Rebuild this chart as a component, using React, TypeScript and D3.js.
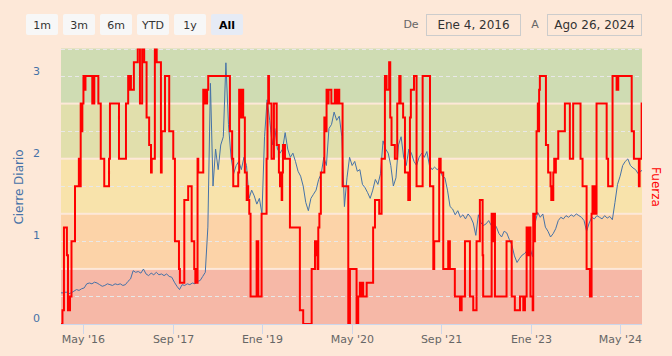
import React from "react";
import * as d3 from "d3";

const WIDTH = 672;
const HEIGHT = 356;
const FONT = '"DejaVu Sans", Verdana, sans-serif';

const rangeButtons = ["1m", "3m", "6m", "YTD", "1y", "All"];
const selectedRange = "All";
const dateFromLabel = "De";
const dateToLabel = "A";
const dateFromText = "Ene 4, 2016";
const dateToText = "Ago 26, 2024";

const rangeStart = "2016-01-04";
const rangeEnd = "2024-08-26";

const xTickDates = ["2016-05-01", "2017-09-01", "2019-01-01", "2020-05-01", "2021-09-01", "2023-01-01", "2024-05-01"];
const xTickLabels = ["May '16", "Sep '17", "Ene '19", "May '20", "Sep '21", "Ene '23", "May '24"];

const cierreTitle = "Cierre Diario";
const fuerzaTitle = "Fuerza";
const cierreTicks = [0, 1, 2, 3];

// Cierre Diario, sampled every 14 days from rangeStart
const cierreIntervalDays = 14;
const cierreValues = [
  0.30, 0.30, 0.31, 0.29, 0.30, 0.32, 0.34, 0.33, 0.35, 0.36,
  0.41, 0.42, 0.41, 0.43, 0.42, 0.40, 0.38, 0.39, 0.41, 0.40,
  0.39, 0.41, 0.40, 0.41, 0.39, 0.40, 0.44, 0.47, 0.57, 0.55,
  0.56, 0.54, 0.59, 0.53, 0.51, 0.54, 0.52, 0.55, 0.52, 0.53,
  0.51, 0.53, 0.50, 0.49, 0.43, 0.38, 0.34, 0.40, 0.39, 0.41,
  0.40, 0.42, 0.41, 0.44, 0.45, 0.50, 0.55, 1.10, 2.85, 1.60,
  2.05, 1.80, 2.10, 2.20, 3.10, 2.35, 1.95, 1.75, 1.85, 1.90,
  1.80, 1.95, 1.85, 1.45, 1.55, 1.48, 1.38, 1.45, 1.26, 2.20,
  2.65, 2.40, 2.10, 2.30, 2.05, 2.00, 2.05, 2.25, 2.05, 1.95,
  2.00, 1.90, 1.78, 1.72, 1.60, 1.40, 1.30, 1.45, 1.50, 1.55,
  1.68, 1.75, 1.95, 1.85, 2.30, 2.35, 2.50, 2.40, 2.45, 2.20,
  1.35, 1.70, 1.95, 1.85, 1.90, 1.78, 1.80, 1.62, 1.58, 1.52,
  1.45, 1.55, 1.68, 1.62, 1.75, 2.15, 2.05, 2.00, 1.85, 1.60,
  1.70, 2.10, 2.20, 1.95, 1.85, 2.05, 2.00, 1.90, 1.85, 1.95,
  2.00, 1.95, 2.02, 1.85, 1.80, 1.83, 1.80, 1.82, 1.72, 1.70,
  1.55, 1.35, 1.32, 1.25, 1.30, 1.22, 1.25, 1.20, 1.26, 1.22,
  1.15, 1.00, 1.25, 1.15, 1.12, 1.14, 1.18, 1.12, 1.15, 1.10,
  1.02, 0.98, 1.05, 1.03, 0.95, 0.88, 0.75, 0.67, 0.72, 0.76,
  0.78, 0.82, 0.85, 0.74, 1.15, 1.28, 1.22, 1.26, 1.10, 1.05,
  0.98, 1.02, 1.08, 1.18, 1.22, 1.20, 1.24, 1.22, 1.25, 1.23,
  1.26, 1.24, 1.22, 1.18, 1.05, 1.15, 1.22, 1.20, 1.24, 1.22,
  1.20, 1.24, 1.21, 1.23, 1.19, 1.40, 1.62, 1.72, 1.85, 1.90,
  1.93, 1.85, 1.82, 1.80, 1.75, 1.78, 1.80,
];

// Fuerza (step series): date of each change and the level from that date on
const fuerzaDates = [
  "2016-01-04", "2016-01-12", "2016-01-20", "2016-02-05", "2016-02-11", "2016-02-22", "2016-03-01", "2016-03-20",
  "2016-04-10", "2016-04-16", "2016-04-20", "2016-04-24", "2016-04-29", "2016-05-05", "2016-05-11", "2016-05-16",
  "2016-06-22", "2016-07-03", "2016-07-25", "2016-08-07", "2016-08-26", "2016-09-21", "2016-09-26", "2016-11-14",
  "2016-12-22", "2017-01-03", "2017-01-09", "2017-01-14", "2017-01-18", "2017-02-03", "2017-02-24", "2017-03-08",
  "2017-03-20", "2017-03-31", "2017-04-13", "2017-04-27", "2017-05-07", "2017-05-11", "2017-05-28", "2017-06-07",
  "2017-06-30", "2017-07-04", "2017-07-22", "2017-08-14", "2017-09-05", "2017-09-14", "2017-10-06", "2017-10-11",
  "2017-11-04", "2017-11-25", "2017-12-14", "2017-12-28", "2018-01-03", "2018-01-07", "2018-01-12", "2018-01-15",
  "2018-01-19", "2018-02-15", "2018-02-21", "2018-02-27", "2018-03-04", "2018-03-08", "2018-03-14", "2018-07-10",
  "2018-07-22", "2018-07-28", "2018-08-24", "2018-08-29", "2018-09-05", "2018-09-09", "2018-09-20", "2018-09-29",
  "2018-10-09", "2018-10-13", "2018-10-17", "2018-10-23", "2018-10-30", "2018-12-02", "2018-12-11", "2018-12-29",
  "2019-01-25", "2019-01-30", "2019-02-03", "2019-02-07", "2019-02-21", "2019-03-06", "2019-03-21", "2019-04-02",
  "2019-04-08", "2019-04-13", "2019-04-17", "2019-04-20", "2019-04-24", "2019-05-05", "2019-06-01", "2019-07-25",
  "2019-08-12", "2019-09-27", "2019-10-15", "2019-10-20", "2019-10-26", "2019-10-29", "2019-11-02", "2019-11-08",
  "2019-11-16", "2019-12-05", "2019-12-11", "2019-12-17", "2019-12-23", "2019-12-28", "2020-01-12", "2020-01-31",
  "2020-02-07", "2020-02-17", "2020-02-24", "2020-03-13", "2020-04-13", "2020-04-22", "2020-05-28", "2020-06-06",
  "2020-06-15", "2020-06-23", "2020-06-29", "2020-07-03", "2020-07-22", "2020-08-26", "2020-09-05", "2020-09-28",
  "2020-10-11", "2020-10-29", "2020-11-02", "2020-11-05", "2020-11-07", "2020-11-21", "2020-11-27", "2020-12-04",
  "2020-12-22", "2021-01-04", "2021-01-15", "2021-01-18", "2021-01-20", "2021-01-22", "2021-02-05", "2021-02-15",
  "2021-03-05", "2021-03-14", "2021-03-19", "2021-04-05", "2021-04-19", "2021-05-22", "2021-07-01", "2021-07-19",
  "2021-07-24", "2021-08-20", "2021-08-28", "2021-09-11", "2021-10-08", "2021-10-17", "2021-11-13", "2021-12-11",
  "2021-12-20", "2022-01-07", "2022-02-03", "2022-02-21", "2022-03-11", "2022-03-29", "2022-04-13", "2022-04-16",
  "2022-06-01", "2022-06-10", "2022-06-13", "2022-06-19", "2022-08-21", "2022-09-18", "2022-10-05", "2022-11-02",
  "2022-11-20", "2022-11-29", "2022-12-08", "2022-12-17", "2022-12-23", "2022-12-29", "2023-01-10", "2023-01-13",
  "2023-01-18", "2023-01-22", "2023-01-31", "2023-02-07", "2023-02-11", "2023-02-14", "2023-02-18", "2023-03-23",
  "2023-04-04", "2023-04-17", "2023-04-21", "2023-04-24", "2023-04-28", "2023-05-02", "2023-05-07", "2023-05-11",
  "2023-05-16", "2023-05-29", "2023-07-04", "2023-07-31", "2023-08-18", "2023-09-27", "2023-10-08", "2023-10-30",
  "2023-11-17", "2023-11-26", "2023-12-01", "2023-12-05", "2023-12-09", "2023-12-14", "2023-12-23", "2024-02-16",
  "2024-02-24", "2024-03-19", "2024-04-10", "2024-04-19", "2024-07-01", "2024-07-13", "2024-08-09", "2024-08-13",
  "2024-08-24", "2024-08-26",
];
const fuerzaValues = [
  0, 0.5, 3.5, 2.5, 0.5, 1, 3, 5,
  6, 5, 8, 7, 8, 9, 8.5, 9,
  8, 9, 8, 6, 5, 6, 8, 6,
  8, 9, 8.5, 9, 8.5, 9.5, 10, 8,
  10, 9.5, 7.5, 6.5, 5.5, 6, 10, 9.5,
  5.5, 7, 9, 7, 6, 3, 2, 1.5,
  4.5, 5, 3, 2, 1.5, 2, 1.5, 6,
  5.5, 8.5, 8, 8.5, 8, 8.5, 9, 7,
  6, 5, 5.5, 8.5, 7.5, 8.5, 7.5, 5.5,
  4.5, 5, 4.5, 4, 1, 3, 1, 4,
  6, 8, 9, 8, 6, 8, 6.5, 5.5,
  5, 5.5, 4.5, 5.5, 6.5, 6, 3.5, 0.5,
  0, 2, 3, 2.5, 3, 2, 3.5, 4,
  5.5, 7.5, 7, 8.5, 8, 8.5, 8, 8.5,
  8, 8.5, 8, 5, 0, 2, 0, 1,
  1.5, 1, 1.5, 1, 1.5, 3.5, 4.5, 4,
  6, 9, 8.5, 9, 8.5, 9.5, 7.5, 6.5,
  6, 8, 9, 8, 9, 8, 7.5, 5.5,
  4.5, 7.5, 8.5, 9, 5, 9, 5, 2,
  3, 6, 5.5, 2, 3, 2, 1, 0.5,
  1, 3, 1, 0.5, 3, 4.5, 2.5, 1,
  4, 3, 4, 1, 3, 1, 0.5, 1,
  0.5, 1, 3.5, 2.5, 3.5, 1, 0.5, 4,
  3, 4, 7, 8, 7, 8.5, 9, 6.5,
  5.5, 5, 4.5, 5, 4.5, 5.5, 6, 5.5,
  6, 7, 8, 6, 8, 6, 5, 2,
  1, 4, 5, 4, 5, 4, 8, 6,
  5, 9, 8.5, 9, 7, 6, 5, 6,
  8, 8,
];

const fuerzaBandEdges = [0, 2, 4, 6, 8, 10];
const fuerzaBandColors = ["#f6b8a7", "#fcd3a8", "#f8e3ab", "#e1dfac", "#cfdcb3"];
const fuerzaGridLevels = [1, 3, 5, 7, 9, 10];

export default function App() {
  const parse = d3.utcParse("%Y-%m-%d");
  const plot = { left: 61, right: 642, top: 48.5, bottom: 324 };
  const start = parse(rangeStart) as Date;
  const end = parse(rangeEnd) as Date;

  const x = d3.scaleUtc().domain([start, end]).range([plot.left, plot.right]);
  const yC = d3.scaleLinear().domain([-0.079, 3.274]).range([plot.bottom, plot.top]);
  const yF = d3.scaleLinear().domain([0, 10]).range([plot.bottom, plot.top]);

  const cierre = cierreValues.map((v, i) => ({ d: d3.utcDay.offset(start, i * cierreIntervalDays), v }));
  const fuerza = fuerzaDates.map((s, i) => ({ d: parse(s) as Date, v: fuerzaValues[i] }));

  const cierreLine = d3
    .line<{ d: Date; v: number }>()
    .x((p) => x(p.d))
    .y((p) => yC(p.v));
  const fuerzaLine = d3
    .line<{ d: Date; v: number }>()
    .curve(d3.curveStepAfter)
    .x((p) => x(p.d))
    .y((p) => yF(p.v));

  const btnX0 = 26;
  const btnStep = 37;

  return (
    <svg
      width={WIDTH}
      height={HEIGHT}
      style={{ position: "absolute", left: 0, top: 0, fontFamily: FONT }}
    >
      <defs>
        <clipPath id="plotClip">
          <rect x={plot.left} y={plot.top} width={plot.right - plot.left} height={plot.bottom - plot.top + 1} />
        </clipPath>
      </defs>
      <rect x={0} y={0} width={WIDTH} height={HEIGHT} fill="#fde8d8" />

      {/* range selector buttons */}
      {rangeButtons.map((b, i) => {
        const sel = b === selectedRange;
        return (
          <g key={b} transform={`translate(${btnX0 + i * btnStep},14)`}>
            <rect width={32} height={21} rx={2} fill={sel ? "#e6ebf5" : "#f7f7f7"} />
            <text
              x={16}
              y={14.5}
              textAnchor="middle"
              fontSize={11}
              fontWeight={sel ? "bold" : "normal"}
              fill={sel ? "#000" : "#333"}
            >
              {b}
            </text>
          </g>
        );
      })}

      {/* date inputs */}
      <text x={411} y={28} textAnchor="middle" fontSize={11} fill="#666">{dateFromLabel}</text>
      <rect x={426.5} y={14.5} width={94} height={21} fill="none" stroke="#cccccc" />
      <text x={473.5} y={28.5} textAnchor="middle" fontSize={12} fill="#333">{dateFromText}</text>
      <text x={535} y={28} textAnchor="middle" fontSize={11} fill="#666">{dateToLabel}</text>
      <rect x={547.5} y={14.5} width={94} height={21} fill="none" stroke="#cccccc" />
      <text x={594.5} y={28.5} textAnchor="middle" fontSize={12} fill="#333">{dateToText}</text>

      {/* plot bands */}
      {fuerzaBandColors.map((c, i) => {
        const y0 = yF(fuerzaBandEdges[i + 1]) + (i === fuerzaBandColors.length - 1 ? 0 : 1);
        const y1 = yF(fuerzaBandEdges[i]) - (i === 0 ? 0 : 1);
        return <rect key={i} x={plot.left} y={y0} width={plot.right - plot.left} height={y1 - y0} fill={c} />;
      })}

      {/* dashed grid */}
      {fuerzaGridLevels.map((l) => (
        <line
          key={l}
          x1={plot.left}
          x2={plot.right}
          y1={Math.round(yF(l)) + 0.5}
          y2={Math.round(yF(l)) + 0.5}
          stroke="#e8e8e8"
          strokeDasharray="4,3"
        />
      ))}

      {/* series */}
      <g clipPath="url(#plotClip)">
        <path d={cierreLine(cierre) || ""} fill="none" stroke="#4572a7" strokeWidth={1} />
        <path d={fuerzaLine(fuerza) || ""} fill="none" stroke="#ff0000" strokeWidth={2} />
      </g>

      {/* x axis */}
      <line x1={plot.left} x2={plot.right} y1={plot.bottom + 0.5} y2={plot.bottom + 0.5} stroke="#ccd6eb" />
      {xTickDates.map((s, i) => {
        const tx = Math.round(x(parse(s) as Date)) + 0.5;
        return (
          <g key={s}>
            <line x1={tx} x2={tx} y1={plot.bottom} y2={plot.bottom + 10} stroke="#ccd6eb" />
            <text x={tx} y={343} textAnchor="middle" fontSize={11} fill="#666">
              {xTickLabels[i]}
            </text>
          </g>
        );
      })}

      {/* left axis */}
      {cierreTicks.map((t) => (
        <text key={t} x={40} y={yC(t) + 4} textAnchor="end" fontSize={11} fill="#4572a7">
          {t}
        </text>
      ))}
      <text
        transform={`translate(23,187) rotate(-90)`}
        textAnchor="middle"
        fontSize={12}
        fill="#4572a7"
      >
        {cierreTitle}
      </text>
      <text
        transform={`translate(652,187) rotate(90)`}
        textAnchor="middle"
        fontSize={12}
        fill="#ff0000"
      >
        {fuerzaTitle}
      </text>
    </svg>
  );
}
